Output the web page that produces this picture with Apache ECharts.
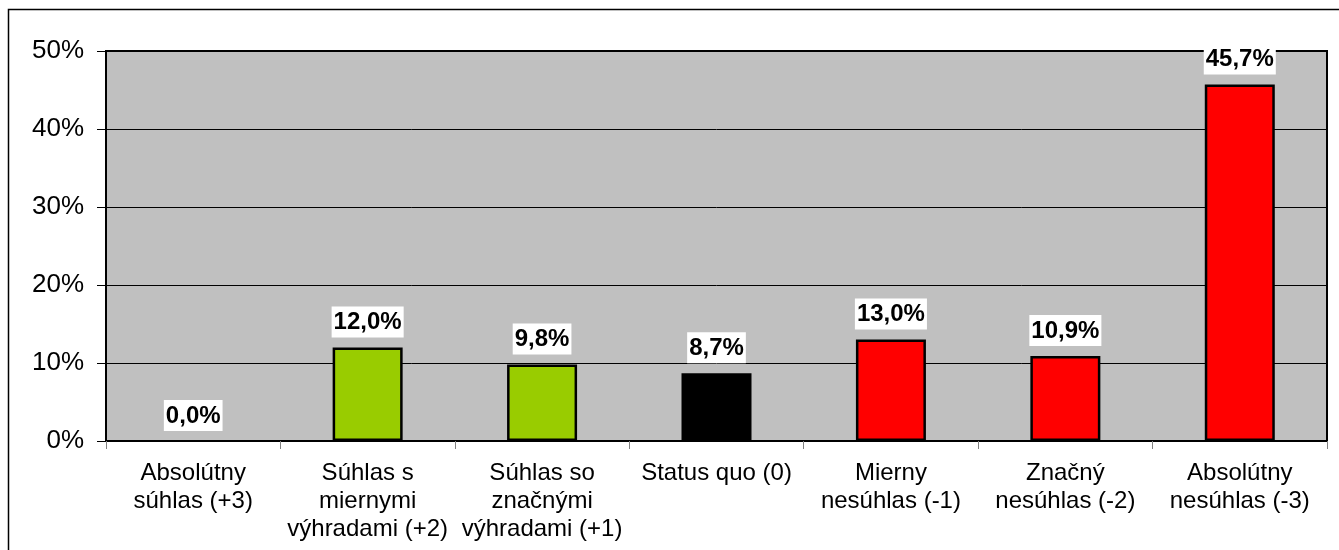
<!DOCTYPE html>
<html>
<head>
<meta charset="utf-8">
<script src="https://cdn.jsdelivr.net/npm/echarts@6/dist/echarts.min.js"></script>
<style>
html,body{margin:0;padding:0;background:#fff;}
#c{width:1339px;height:550px;}
</style>
</head>
<body>
<div id="c"></div>
<script>
var categories = [
  "Absolútny\nsúhlas (+3)",
  "Súhlas s\nmiernymi\nvýhradami (+2)",
  "Súhlas so\nznačnými\nvýhradami (+1)",
  "Status quo (0)",
  "Mierny\nnesúhlas (-1)",
  "Značný\nnesúhlas (-2)",
  "Absolútny\nnesúhlas (-3)"
];
var values = [0.0, 12.0, 9.8, 8.7, 13.0, 10.9, 45.7];
var barColors = ["#99CC00", "#99CC00", "#99CC00", "#000000", "#FF0000", "#FF0000", "#FF0000"];
var yTicks = [0, 10, 20, 30, 40, 50];

var chart = echarts.init(document.getElementById('c'), null, {renderer: 'canvas'});
var font = 'Liberation Sans, Arial, sans-serif';
chart.setOption({
  animation: false,
  backgroundColor: '#ffffff',
  graphic: [{
    type: 'rect',
    shape: {x: 8.5, y: 9.5, width: 1400, height: 600},
    style: {fill: 'none', stroke: '#000', lineWidth: 1.5},
    silent: true,
    z: 100
  }],
  grid: {
    left: 106, top: 51, right: 12, bottom: 109,
    show: true, backgroundColor: '#C0C0C0', borderColor: '#000', borderWidth: 2
  },
  xAxis: {
    type: 'category',
    data: categories,
    axisLine: {show: true, lineStyle: {color: '#000', width: 2}},
    axisTick: {show: true, alignWithLabel: false, length: 8, lineStyle: {color: '#808080', width: 1}},
    axisLabel: {
      interval: 0, margin: 18, color: '#000',
      fontFamily: font, fontSize: 24, lineHeight: 28
    }
  },
  yAxis: {
    type: 'value',
    min: yTicks[0], max: yTicks[yTicks.length - 1], interval: 10,
    axisLine: {show: true, lineStyle: {color: '#000', width: 2}},
    axisTick: {show: true, length: 9, lineStyle: {color: '#000', width: 1}},
    splitLine: {show: true, lineStyle: {color: '#000', width: 1}},
    axisLabel: {
      margin: 22, color: '#000', fontFamily: font, fontSize: 26,
      formatter: function (v) { return v + '%'; }
    }
  },
  series: [{
    type: 'bar',
    barWidth: 70,
    data: values.map(function (v, i) {
      return {value: v, itemStyle: {color: barColors[i], borderColor: '#000', borderWidth: v > 0 ? 2.5 : 0}};
    }),
    label: {
      show: true, position: 'top', distance: 10,
      color: '#000', fontFamily: font, fontSize: 24, fontWeight: 'bold',
      backgroundColor: '#ffffff', padding: [4, 2, 3, 2],
      formatter: function (p) { return p.value.toFixed(1).replace('.', ',') + '%'; }
    }
  }]
});
</script>
</body>
</html>
